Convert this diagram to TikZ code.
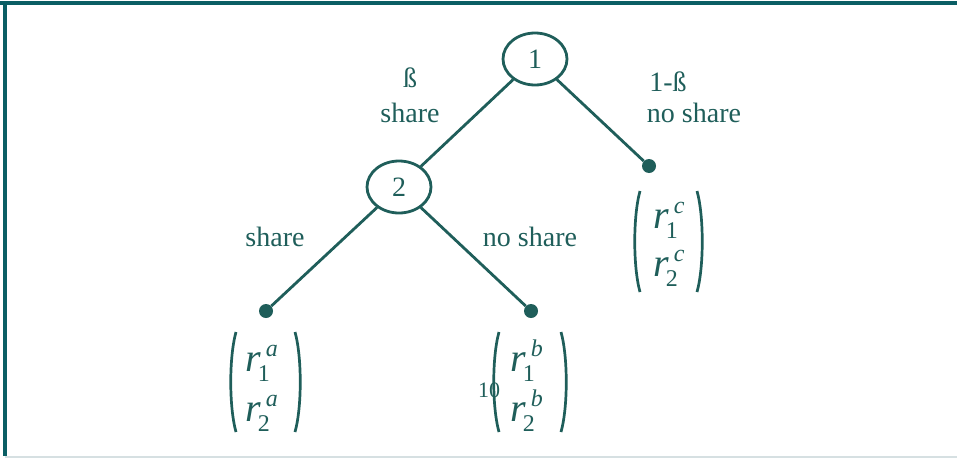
\documentclass[tikz,border=0pt]{standalone}
\usepackage{fontspec}
\setmainfont{Liberation Serif}
\usetikzlibrary{shapes.geometric}
\definecolor{inkteal}{RGB}{31,94,90}
\definecolor{frameteal}{RGB}{10,94,100}
\definecolor{baserule}{RGB}{214,224,226}

% payoff component r_i^k set in text fonts
\newcommand{\rcomp}[2]{{\fontsize{40}{40}\selectfont\itshape r}\kern-3pt\rlap{\raisebox{-10pt}{\fontsize{24}{24}\selectfont #1}}\kern8pt\raisebox{15pt}{\fontsize{24}{24}\selectfont\itshape #2}}

\tikzset{
  chance/.style={draw=inkteal, line width=2.8pt, ellipse, minimum width=64pt, minimum height=52pt, inner sep=0pt, text=inkteal, font=\fontsize{28}{28}\selectfont},
  leaf/.style={circle, fill=inkteal, minimum size=14pt, inner sep=0pt},
  edge/.style={draw=inkteal, line width=2.8pt},
  lbl/.style={text=inkteal, inner sep=0pt, font=\fontsize{28}{28}\selectfont},
  comp/.style={text=inkteal, inner sep=0pt, anchor=base west},
  paren/.style={draw=inkteal, line width=2.7pt},
}

\begin{document}
\begin{tikzpicture}[x=1pt, y=-1pt]
\useasboundingbox (0,0) rectangle (957,458);

% frame
\draw[baserule, line width=1.5pt] (5,457) -- (957,457);
\draw[frameteal, line width=4pt] (0,3) -- (957,3);
\draw[frameteal, line width=4pt] (5,1) -- (5,456);

% decision nodes and terminal points
\node[chance] (n1) at (535,59) {1};
\node[chance] (n2) at (399,187) {2};
\node[leaf] (da) at (266,311) {};
\node[leaf] (db) at (531,311) {};
\node[leaf] (dc) at (649,166) {};

\draw[edge] (n1) -- (n2);
\draw[edge] (n1) -- (dc);
\draw[edge] (n2) -- (da);
\draw[edge] (n2) -- (db);

% branch labels
\node[lbl] (lbeta) at (410,78) {ß};
\node[lbl] (lshare1) at (410,113) {share};
\node[lbl] (lbeta2) at (668,82) {1-ß};
\node[lbl] (lnoshare1) at (694,113) {no share};
\node[lbl] (lshare2) at (275,237) {share};
\node[lbl] (lnoshare2) at (530,237) {no share};

% payoff vector c
\draw[paren] (640,191) .. controls (633,216) and (633,267) .. (640,292);
\draw[paren] (697,191) .. controls (704,216) and (704,267) .. (697,292);
\node[comp] (rc1) at (653,228) {\rcomp{1}{c}};
\node[comp] (rc2) at (653,276) {\rcomp{2}{c}};

% payoff vectors a and b, cut at the lower edge
\begin{scope}
\clip (0,0) rectangle (957,433);
\draw[paren] (236,332) .. controls (229,357) and (229,407) .. (236,432);
\draw[paren] (295,332) .. controls (302,357) and (302,407) .. (295,432);
\node[comp] (ra1) at (245,371) {\rcomp{1}{a}};
\node[comp] (ra2) at (245,421) {\rcomp{2}{a}};

\draw[paren] (499,332) .. controls (492,357) and (492,407) .. (499,432);
\draw[paren] (561,332) .. controls (568,357) and (568,407) .. (561,432);
\node[comp] (rb1) at (510,371) {\rcomp{1}{b}};
\node[comp] (rb2) at (510,421) {\rcomp{2}{b}};
\end{scope}

\node[lbl, font=\fontsize{22}{22}\selectfont] (pnum) at (489,390) {10};
\end{tikzpicture}
\end{document}
